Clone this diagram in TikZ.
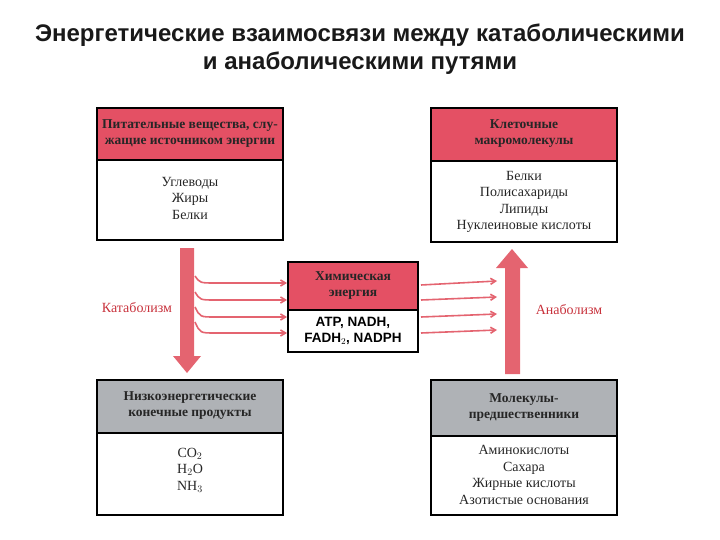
\documentclass[tikz,border=0pt]{standalone}
\usepackage{fontspec}
\setmainfont{Liberation Serif}
\newfontfamily\sans{Liberation Sans}
\usetikzlibrary{arrows.meta,positioning}
\definecolor{hdr}{RGB}{228,80,100}
\definecolor{gry}{RGB}{175,178,182}
\definecolor{arr}{RGB}{228,100,112}
\definecolor{lbl}{RGB}{200,50,60}
\tikzset{
 frame/.style={draw=black,line width=1.2pt},
 hdrtext/.style={font=\fontsize{13.5}{16}\selectfont\bfseries,align=center,text=black!85},
 bodytext/.style={font=\fontsize{14}{16.5}\selectfont,align=center,text=black!85},
 thin/.style={draw=arr,line width=1.6pt,-{Straight Barb[length=5pt,width=6pt]}},
}
\begin{document}
\begin{tikzpicture}[x=1pt,y=-1pt]
\useasboundingbox (0,0) rectangle (720,540);
\node[font=\sans\bfseries\fontsize{24}{28}\selectfont,text=black!90,align=center] (title) at (360,49) {Энергетические взаимосвязи между катаболическими\\и анаболическими путями};
% TL
\fill[hdr] (97,108) rectangle (283,160);
\draw[frame] (97,108) rectangle (283,240); \draw[frame] (97,160)--(283,160);
\node[hdrtext] (tlh) at (190,134) {Питательные вещества, слу-\\жащие источником энергии};
\node[bodytext] (tlb) at (190,198) {Углеводы\\Жиры\\Белки};
% TR
\fill[hdr] (431,108) rectangle (617,161);
\draw[frame] (431,108) rectangle (617,242); \draw[frame] (431,161)--(617,161);
\node[hdrtext] (trh) at (524,134) {Клеточные\\макромолекулы};
\node[bodytext] (trb) at (524,202) {Белки\\Полисахариды\\Липиды\\Нуклеиновые кислоты};
% BL
\fill[gry] (97,380) rectangle (283,433);
\draw[frame] (97,380) rectangle (283,515); \draw[frame] (97,433)--(283,433);
\node[hdrtext] (blh) at (190,406) {Низкоэнергетические\\конечные продукты};
\node[bodytext] (blb) at (190,470) {CO$_2$\\H$_2$O\\NH$_3$};
% BR
\fill[gry] (431,380) rectangle (617,436);
\draw[frame] (431,380) rectangle (617,515); \draw[frame] (431,436)--(617,436);
\node[hdrtext] (brh) at (524,408) {Молекулы-\\предшественники};
\node[bodytext] (brb) at (524,475) {Аминокислоты\\Сахара\\Жирные кислоты\\Азотистые основания};
% center
\fill[hdr] (288,262) rectangle (418,310);
\draw[frame] (288,262) rectangle (418,352); \draw[frame] (288,310)--(418,310);
\node[hdrtext] (ch) at (353,286) {Химическая\\энергия};
\node[font=\sans\bfseries\fontsize{13.5}{16.5}\selectfont,align=center] (cb) at (353,331) {ATP, NADH,\\FADH$_2$, NADPH};
% big arrows
\fill[arr] (180,248) -- (194,248) -- (194,356) -- (201,356) -- (187,373) -- (173,356) -- (180,356) -- cycle;
\fill[arr] (505,374) -- (520,374) -- (520,268) -- (528,268) -- (512,249) -- (496,268) -- (505,268) -- cycle;
\node[font=\fontsize{14}{16}\selectfont,text=lbl] (cat) at (137,308) {Катаболизм};
\node[font=\fontsize{14}{16}\selectfont,text=lbl] (ana) at (569,310) {Анаболизм};
% small arrows
\foreach \a/\b in {276/283,292/300,307/317,322/333}{
 \draw[thin] (195,\a) .. controls (200,\b) .. (215,\b) -- (287,\b);
}
\foreach \a/\b in {285/281,300/297,317/314,333/330}{
 \draw[thin] (421,\a) -- (497,\b);
}
\end{tikzpicture}
\end{document}
